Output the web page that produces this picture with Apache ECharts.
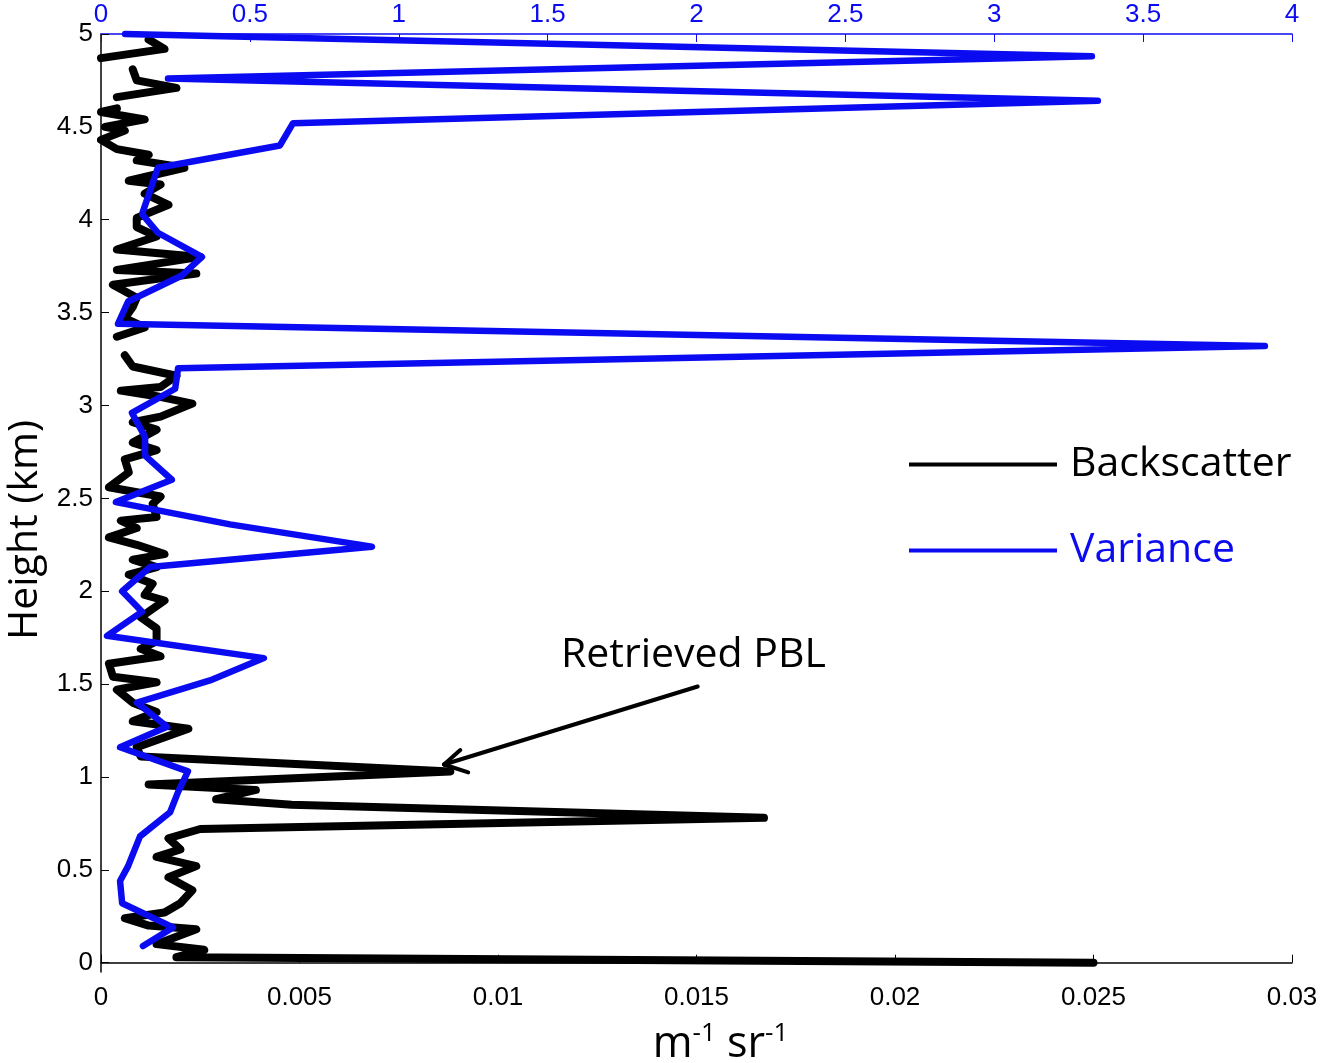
<!DOCTYPE html>
<html>
<head>
<meta charset="utf-8">
<script src="https://cdn.jsdelivr.net/npm/echarts@6/dist/echarts.min.js"></script>
<style>
  html, body { margin: 0; padding: 0; background: #fff; }
  #chart { width: 1324px; height: 1063px; }
</style>
</head>
<body>
<div id="chart"></div>
<script>
// Backscatter profile (bottom axis, m^-1 sr^-1); null = gap in the trace
const bsHeight = [0.00, 0.03, 0.07, 0.10, 0.18, 0.20, 0.24, 0.27, 0.32, 0.39, 0.46, 0.52, 0.57, 0.61, 0.67, 0.72,
  0.78, 0.85, 0.88, 0.93, 0.96, 1.03, 1.11, 1.16, 1.26, 1.30, 1.35, 1.40, 1.47, 1.51, 1.54, 1.61, 1.65, 1.69,
  1.73, 1.80, 1.86, 1.95, 1.98, 2.04, 2.09, 2.13, 2.17, 2.20, 2.25, 2.29, 2.34, 2.38, 2.40, 2.47, 2.51, 2.56,
  2.64, 2.71, 2.76, 2.80, 2.87, 2.91, 2.94, 3.01, 3.05, 3.08, 3.10, 3.16, 3.21, 3.27, 3.32,
  3.37, 3.42, 3.47, 3.53, 3.58, 3.65, 3.71, 3.73, 3.80, 3.84, 3.91, 3.96, 4.01, 4.08, 4.14, 4.19, 4.21, 4.28,
  4.32, 4.35, 4.38, 4.43, 4.48, 4.50, 4.54, 4.58, 4.60, 4.63,
  4.66, 4.71, 4.75, 4.81, 4.84,
  4.87, 4.92, 4.97];
const bsValue = [0.0250, 0.0019, 0.0026, 0.0014, 0.0024, 0.0012, 0.0006, 0.0016, 0.0020, 0.0023, 0.0017, 0.0024, 0.0014, 0.0020, 0.0017, 0.0025,
  0.0167, 0.0048, 0.0029, 0.0039, 0.0012, 0.0088, 0.0010, 0.0009, 0.0022, 0.0008, 0.0014, 0.0008, 0.0004, 0.0014, 0.0003, 0.0002, 0.0015, 0.0010,
  0.0014, 0.0014, 0.0010, 0.0016, 0.0011, 0.0013, 0.0007, 0.0014, 0.0008, 0.0016, 0.0009, 0.0002, 0.0009, 0.0005, 0.0014, 0.0013, 0.0015, 0.0002,
  0.0007, 0.0006, 0.0014, 0.0008, 0.0014, 0.0008, 0.0015, 0.0023, 0.0014, 0.0005, 0.0015, 0.0019, 0.0008, 0.0006, null,
  0.0004, 0.0011, 0.0006, 0.0008, 0.0009, 0.0003, 0.0024, 0.0004, 0.0025, 0.0004, 0.0014, 0.0009, 0.0009, 0.0017, 0.0011, 0.0015, 0.0007, 0.0021,
  0.0009, 0.0012, 0.0004, 0.0000, 0.0006, 0.0001, 0.0011, 0.0000, 0.0004, null,
  0.0004, 0.0019, 0.0009, 0.0008, null,
  0.0000, 0.0016, 0.0012];

// Variance profile (top axis)
const varHeight = [0.09, 0.19, 0.32, 0.44, 0.52, 0.68, 0.81, 0.92, 1.03, 1.16, 1.27, 1.40, 1.52, 1.64, 1.76, 1.89,
  2.00, 2.13, 2.24, 2.36, 2.48, 2.60, 2.73, 2.83, 2.96, 3.09, 3.20, 3.32, 3.44, 3.56, 3.70, 3.80, 3.93, 4.03,
  4.28, 4.40, 4.52, 4.64, 4.76, 4.88, 5.00];
const varValue = [0.141, 0.242, 0.071, 0.064, 0.091, 0.131, 0.232, 0.259, 0.292, 0.064, 0.222, 0.121, 0.366, 0.547, 0.020, 0.138,
  0.071, 0.165, 0.910, 0.433, 0.050, 0.238, 0.148, 0.148, 0.104, 0.249, 0.259, 3.909, 0.057, 0.091, 0.272, 0.339, 0.191, 0.138,
  0.191, 0.601, 0.645, 3.348, 0.225, 3.328, 0.081];

const heightTicks = [0, 0.5, 1, 1.5, 2, 2.5, 3, 3.5, 4, 4.5, 5];

// "Retrieved PBL" arrow: tail, tip and the two barbs (bottom axis units, km)
const arrowTail = [0.01503, 1.487];
const arrowTip = [0.00864, 1.067];
const arrowBarbs = [[0.00905, 1.145], [0.00925, 1.025]];

const BLUE = '#0b0bf2';
const tickFont = 'Liberation Sans';
const textFont = 'Open Sans';

const chart = echarts.init(document.getElementById('chart'));

const pair = (hs, vs) => hs.map((h, i) => (vs[i] === null ? [null, h] : [vs[i], h]));

const option = {
  animation: false,
  backgroundColor: '#fff',
  grid: { left: 101, right: 32, top: 34, bottom: 91, outerBoundsMode: 'none', containLabel: false },
  legend: {
    orient: 'vertical',
    left: 904,
    top: 439,
    itemWidth: 148,
    itemHeight: 4,
    itemGap: 45,
    icon: 'rect',
    selectedMode: false,
    textStyle: { fontFamily: textFont, fontSize: 41, padding: [0, 0, 0, 8] },
    data: [
      { name: 'Backscatter', textStyle: { color: '#000' } },
      { name: 'Variance', textStyle: { color: BLUE } }
    ]
  },
  xAxis: [
    {
      type: 'value',
      position: 'bottom',
      min: 0,
      max: 0.03,
      interval: 0.005,
      splitLine: { show: false },
      axisLine: { lineStyle: { color: '#000', width: 1.5 } },
      axisTick: { inside: true, length: 8, lineStyle: { color: '#000' } },
      axisLabel: {
        color: '#000', fontFamily: tickFont, fontSize: 26, margin: 13,
        formatter: v => String(parseFloat(v.toFixed(4)))
      },
      name: '{n|m}{s|-1}{n| sr}{s|-1}',
      nameLocation: 'middle',
      nameGap: 49,
      nameTextStyle: {
        padding: [0, 0, 0, 48],
        rich: {
          n: { fontFamily: textFont, fontSize: 43, color: '#000', lineHeight: 46 },
          s: { fontFamily: textFont, fontSize: 26, color: '#000', padding: [0, 0, 22, 0] }
        }
      }
    },
    {
      type: 'value',
      position: 'top',
      min: 0,
      max: 4,
      interval: 0.5,
      splitLine: { show: false },
      axisLine: { lineStyle: { color: BLUE, width: 1.5 } },
      axisTick: { inside: true, length: 8, lineStyle: { color: BLUE } },
      axisLabel: { color: BLUE, fontFamily: tickFont, fontSize: 26, margin: 6 }
    }
  ],
  yAxis: {
    type: 'value',
    min: -0.05,
    max: 5,
    splitLine: { show: false },
    axisLine: { show: true, lineStyle: { color: '#000', width: 1.5 } },
    axisTick: { show: true, inside: true, length: 8, customValues: heightTicks, lineStyle: { color: '#000' } },
    axisLabel: { color: '#000', fontFamily: tickFont, fontSize: 26, margin: 8, customValues: heightTicks },
    name: 'Height (km)',
    nameLocation: 'middle',
    nameGap: 42,
    nameTextStyle: { fontFamily: textFont, fontSize: 41, color: '#000', padding: [0, 54, 0, 0] }
  },
  series: [
    {
      name: 'Backscatter',
      type: 'line',
      xAxisIndex: 0,
      data: pair(bsHeight, bsValue),
      showSymbol: false,
      connectNulls: false,
      clip: false,
      color: '#000',
      lineStyle: { color: '#000', width: 8, cap: 'round', join: 'round' },
      markLine: {
        silent: true,
        symbol: ['none', 'none'],
        label: { show: false },
        lineStyle: { color: '#000', width: 4, type: 'solid', cap: 'round' },
        data: [
          [{ coord: arrowTail }, { coord: arrowTip }],
          [{ coord: arrowTip }, { coord: arrowBarbs[0] }],
          [{ coord: arrowTip }, { coord: arrowBarbs[1] }]
        ]
      },
      z: 2
    },
    {
      name: 'Variance',
      type: 'line',
      xAxisIndex: 1,
      data: pair(varHeight, varValue),
      showSymbol: false,
      clip: false,
      color: BLUE,
      lineStyle: { color: BLUE, width: 6.5, cap: 'round', join: 'round' },
      z: 3
    }
  ],
  graphic: [
    {
      type: 'text',
      left: 561,
      top: 635,
      style: { text: 'Retrieved PBL', font: '41px "Open Sans"', fill: '#000' }
    }
  ]
};

chart.setOption(option);
</script>
</body>
</html>
